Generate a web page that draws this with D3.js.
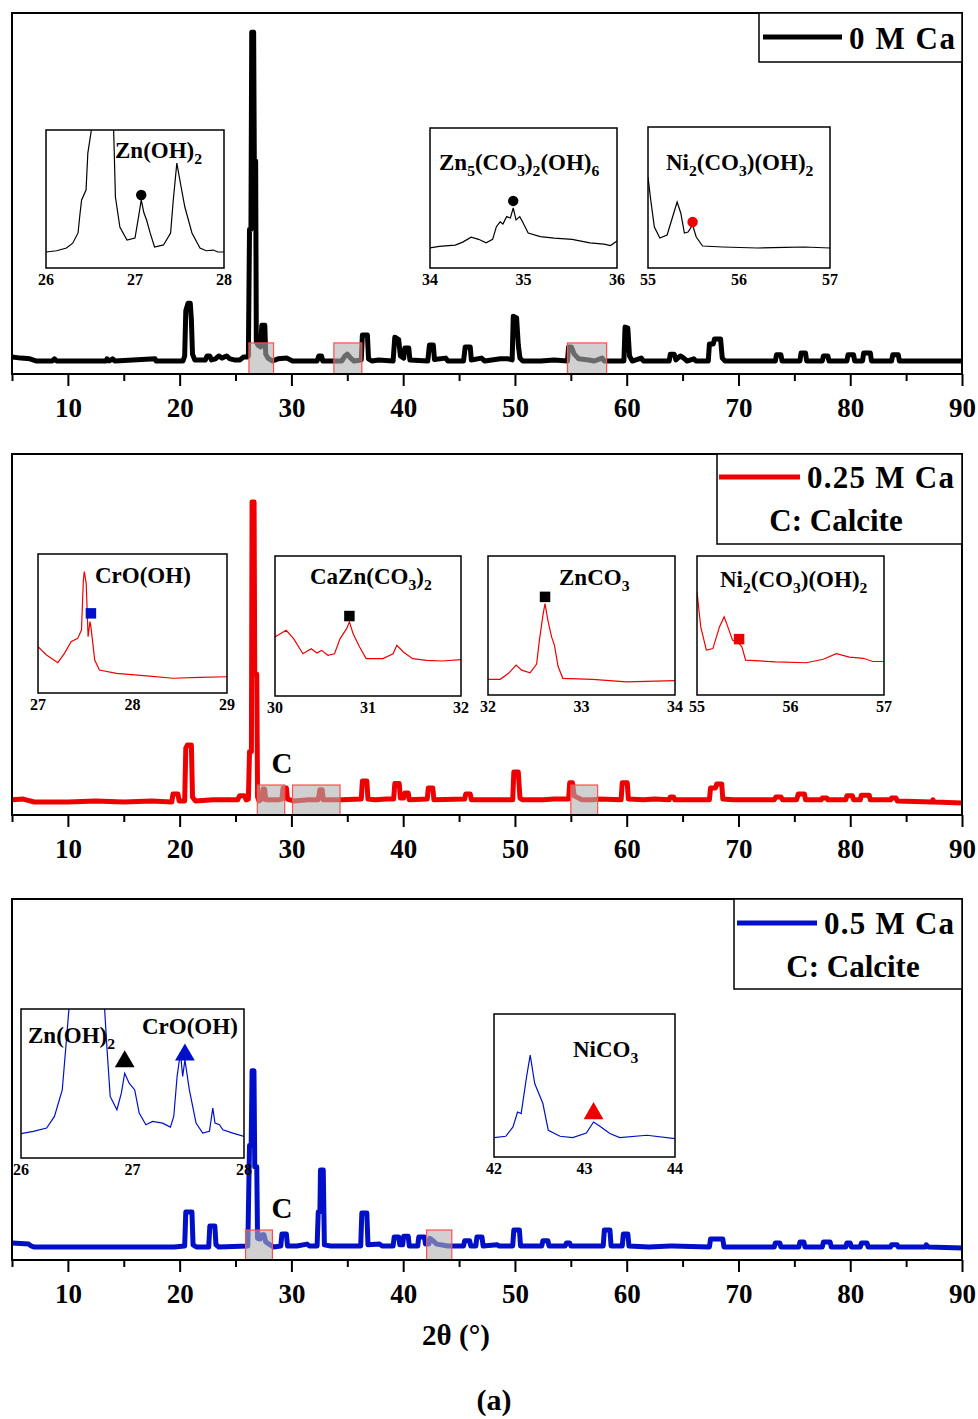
<!DOCTYPE html>
<html>
<head>
<meta charset="utf-8">
<script src="https://cdn.jsdelivr.net/npm/d3@7/dist/d3.min.js"></script>
<style>
html,body{margin:0;padding:0;background:#fff;}
svg{display:block;}
text{font-family:"Liberation Serif","Times New Roman",serif;font-weight:bold;fill:#000;}
</style>
</head>
<body>
<script>
// ---------------- DATA ----------------
const xMajorTicks = [10,20,30,40,50,60,70,80,90];
const xMinorTicks = [5,15,25,35,45,55,65,75,85];
const seriesNames = ["0 M Ca","0.25 M Ca","0.5 M Ca"];
const seriesColors = ["#000000","#ee0000","#0010c8"];

// main XRD patterns: [2theta, intensity (a.u.)]
const pattern0M = [
[5,4.7],[5.8,4.4],[6.6,4.2],[7.2,3.6],[8.6,3.6],[8.8,4.2],[9.0,3.6],[13.4,3.6],[13.5,4.2],[13.7,3.6],[14.0,4.2],[14.2,3.6],[17.8,4.2],[17.9,3.6],
[20.3,3.6],[20.45,5],[20.55,17.5],[20.75,19.6],[20.95,19.6],[21.05,15],[21.15,5.5],[21.35,3.9],
[22.3,3.9],[22.45,5],[22.7,5],[22.85,3.9],[23.2,4.2],[23.5,5],[23.8,4.4],[24.2,5],[24.5,4.2],[24.9,3.9],[25.4,3.9],[25.7,4.7],[26.0,4.7],[26.15,5],
[26.25,40],[26.38,40],[26.45,94.7],[26.62,94.7],[26.68,59],[26.8,59],[26.86,9],[27.0,8],[27.25,7.5],[27.35,13.5],[27.62,13.5],[27.7,5.5],[27.9,4.4],[28.3,3.6],
[28.8,4.2],[29.6,4.4],[30.1,3.6],[32.3,3.6],[32.45,5],[32.7,5],[32.8,3.6],
[34.5,3.6],[34.8,5],[35.0,5.5],[35.3,4.4],[35.6,3.6],[36.25,3.9],[36.35,10.8],[36.8,10.8],[36.9,4.2],[37.2,3.6],
[37.8,3.9],[39.1,3.6],[39.25,10.2],[39.6,9.5],[39.75,5],[40.05,4.4],[40.15,7.2],[40.5,7.2],[40.6,3.9],
[42.2,3.6],[42.35,8],[42.7,8],[42.8,4],[43.8,4.4],[44.0,3.6],
[45.4,3.6],[45.55,7.5],[46.0,7.5],[46.1,3.9],[47.0,4.4],[47.3,3.6],[48.7,4.2],[49.4,4.2],
[49.75,3.9],[49.85,16],[50.15,15.5],[50.3,8],[50.45,4.4],[50.7,3.6],
[52.3,3.6],[53.5,3.9],[54.7,3.6],[54.8,7.5],[55.05,7.5],[55.3,5.5],[55.7,4.2],[56.6,3.9],[57.1,3.6],[57.8,4.4],[58.0,3.6],
[59.75,3.6],[59.85,13],[60.1,12.7],[60.25,5],[60.5,3.6],[61.3,4.4],[61.5,3.6],
[63.8,3.6],[63.9,5.5],[64.25,5.5],[64.4,3.9],[64.8,5],[65.1,4.4],[65.4,3.6],[66.0,4.2],[66.2,3.6],
[67.3,3.6],[67.4,8.3],[67.75,8.3],[67.85,9.7],[68.4,9.7],[68.55,4.4],[68.8,3.6],
[73.3,3.6],[73.4,5.3],[73.8,5.3],[73.9,3.6],[75.5,3.6],[75.6,5.8],[76.0,5.8],[76.1,3.6],[77.5,3.6],[77.6,5],[78.0,5],[78.1,3.6],
[79.7,3.6],[79.8,5.3],[80.3,5.3],[80.4,3.6],[81.1,3.6],[81.2,5.8],[81.8,5.8],[81.9,3.6],[83.7,3.6],[83.8,5.3],[84.3,5.3],[84.4,3.6],[90,3.6]
];
const pattern025M = [
[5,4.2],[6,4.4],[7,3.6],[10,3.6],[12.5,3.9],[15,3.6],[17.5,3.9],[19.3,3.6],[19.4,5.8],[19.85,5.8],[19.95,3.9],
[20.45,3.9],[20.55,18.5],[20.7,19.4],[21.05,19.4],[21.15,5],[21.4,3.9],[23,4.2],[24.5,4.2],[25.2,4.2],[25.35,5.3],[25.8,5.3],[25.95,4.2],
[26.15,4.4],[26.25,17.5],[26.42,17.5],[26.48,86.7],[26.66,86.7],[26.72,39],[26.9,39],[26.97,5],[27.1,3.9],[27.35,4.4],[27.45,7.2],[27.6,7.2],[27.7,4.2],[28.8,4.2],[29.15,4.4],[29.25,7.5],[29.55,7.5],[29.65,4.4],[30.2,3.9],
[31.5,4.2],[32.4,4.2],[32.55,7],[32.75,7],[32.85,4.2],[34.5,4.2],[36.25,4.4],[36.35,9.4],[36.75,9.4],[36.85,4.4],[37.5,4.2],[38.5,4.4],
[39.15,4.4],[39.25,8.7],[39.65,8.7],[39.75,4.7],[40.05,4.7],[40.15,6.1],[40.45,6.1],[40.55,4.2],[42.15,4.4],[42.25,7.5],[42.65,7.5],[42.75,4.2],
[45.5,4.4],[45.6,5.8],[46.0,5.8],[46.1,4.2],[47.5,4.2],[49.8,4.2],[49.9,11.9],[50.3,11.9],[50.45,4.7],[50.7,4.2],[52.5,4.2],[53.5,4.4],
[54.8,4.4],[54.9,8.9],[55.15,8.9],[55.3,5.3],[56,4.2],[57.0,4.2],[57.5,4.4],[59.5,4.2],[59.6,8.9],[60.05,8.9],[60.15,4.4],[61.5,4.2],[62.5,4.4],
[63.8,4.2],[63.9,5],[64.2,5],[64.3,4.2],[66.5,4.2],[67.4,4.2],[67.5,7.5],[67.95,7.5],[68.05,8.6],[68.5,8.6],[68.6,4.4],[69.5,4.2],[71,4.2],
[73.2,4.2],[73.35,5],[73.8,5],[73.95,4.2],[75.2,4.2],[75.35,5.8],[75.9,5.8],[76.0,4.2],[77.4,4.2],[77.5,4.7],[77.9,4.7],[78.0,4.2],
[79.6,4.2],[79.7,5.3],[80.2,5.3],[80.3,4.2],[80.9,4.2],[81.0,5.5],[81.7,5.5],[81.8,4.2],[83.6,4.2],[83.7,4.7],[84.1,4.7],[84.2,3.9],[87.3,3.6],[87.4,4.2],[87.5,3.6],[90,3.3]
];
const pattern05M = [
[5,4.7],[6.5,4.4],[6.7,3.9],[7,3.6],[10,3.6],[15,3.6],[19.5,3.6],[20.45,3.9],[20.55,13.3],[21.1,13.3],[21.2,4.2],[21.5,3.6],
[22.6,3.6],[22.7,9.4],[23.15,9.4],[23.25,4.2],[23.5,3.6],[26.1,3.9],[26.25,31.7],[26.4,31.7],[26.48,52.4],[26.65,52.4],[26.72,25.8],[26.9,25.8],[26.97,6],[27.2,5.8],[27.35,7],[27.55,7],[27.7,5],[28.1,4.2],[28.4,3.6],
[29.05,3.9],[29.15,7.2],[29.55,7.2],[29.65,3.9],[30.5,3.9],[31.4,4.4],[31.6,3.9],[32.3,3.9],[32.4,13.3],[32.55,13.3],[32.6,24.9],[32.85,24.9],[32.95,4.2],[33.5,3.9],
[36.2,3.9],[36.3,13],[36.75,13],[36.85,4.2],[37.9,4.4],[38.1,3.9],[39.1,3.9],[39.2,6.4],[39.6,6.4],[39.7,4.2],[39.95,4.2],[40.05,6.6],[40.45,6.6],[40.55,3.9],
[41.3,3.9],[41.4,6.4],[41.9,6.4],[42.0,4.4],[42.3,4.4],[42.4,6],[42.6,5.5],[43.0,4.4],[44,3.9],[45.4,3.9],[45.5,5.3],[45.95,5.3],[46.05,3.9],[46.5,3.9],[46.6,6.4],[47.05,6.4],[47.15,3.9],
[48.4,4.2],[48.6,3.9],[49.8,3.9],[49.9,8.3],[50.4,8.3],[50.5,3.9],[52.4,3.9],[52.5,5.3],[52.95,5.3],[53.05,3.9],[54.5,3.9],[54.6,4.7],[54.9,4.7],[55.0,3.9],[57.9,3.9],[58.0,8.3],[58.5,8.3],[58.6,3.9],
[59.6,3.9],[59.7,7.2],[60.1,7.2],[60.2,3.9],[62,3.6],[63.9,3.9],[64.1,3.9],[67.4,3.6],[67.5,5.8],[68.6,5.8],[68.7,3.6],[73.2,3.6],[73.3,4.7],[73.7,4.7],[73.8,3.6],
[75.4,3.6],[75.5,5],[75.85,5],[75.95,3.6],[77.5,3.6],[77.6,5],[78.2,5],[78.3,3.6],[79.6,3.6],[79.7,4.7],[80.0,4.7],[80.1,3.6],[80.9,3.6],[81.0,4.7],[81.5,4.7],[81.6,3.6],[83.6,3.6],[83.7,4.2],[84.2,4.2],[84.3,3.6],[86.7,3.6],[86.8,4.2],[87.0,3.6],[90,3.3]
];

// highlighted 2theta ranges [from, to, height]
const zoomRanges0M = [[26.2,28.4,8.6],[33.8,36.3,8.6],[54.7,58.2,8.6]];
const zoomRanges025M = [[26.95,29.4,8.3],[30.1,34.35,8.3],[55.0,57.4,8.3]];
const zoomRanges05M = [[25.9,28.3,8.3],[42.1,44.35,8.3]];

// calcite label [2theta, intensity]
const calciteLabel025M = [29.16,11.6];
const calciteLabel05M = [29.16,11.6];

// inset patterns (intensity relative to inset frame, 0-100)
const insetZnOH2_0M = [[26.00,11.6],[26.12,12.5],[26.23,14.5],[26.30,18],[26.36,25.4],[26.38,38],[26.40,49.3],[26.45,56.5],[26.47,83.3],[26.51,100],[26.55,140],[26.72,140],[26.76,100],[26.78,51.4],[26.83,29.7],[26.91,20.3],[27.00,21.7],[27.04,37],[27.07,49.3],[27.10,40],[27.13,34.8],[27.17,25.4],[27.22,15.2],[27.32,16.7],[27.40,25.4],[27.43,49.3],[27.47,76],[27.51,61.6],[27.56,44.2],[27.64,25.4],[27.73,14.5],[27.80,12.5],[27.88,13],[27.93,11.6],[28.00,11.6]];
const insetZn5_0M = [[34.0,14.3],[34.1,15.5],[34.27,16.4],[34.35,18.5],[34.44,22],[34.52,20.5],[34.6,18],[34.67,20.5],[34.71,29.5],[34.75,33],[34.78,31.4],[34.82,36.7],[34.86,35.7],[34.89,42.9],[34.92,34.3],[34.96,36.7],[34.99,33],[35.05,25],[35.18,22.4],[35.33,21.4],[35.52,20.5],[35.71,18],[35.86,17],[35.93,16],[36.0,19.3]];
const insetNi2_0M = [[55.0,64.5],[55.03,48.2],[55.07,29],[55.13,21.3],[55.21,23.4],[55.27,36.2],[55.32,46.8],[55.36,39],[55.40,24.8],[55.44,25.5],[55.49,30.5],[55.53,22],[55.60,15.6],[55.82,14.9],[56.2,14.2],[56.5,14.6],[56.72,14.9],[57.0,14.2]];
const insetCrOOH_025M = [[27.0,33.3],[27.09,27.3],[27.21,21.8],[27.28,28.5],[27.35,36.9],[27.42,39.3],[27.46,45.3],[27.48,81.3],[27.49,87.3],[27.51,78.9],[27.53,40.5],[27.55,51.3],[27.56,47.7],[27.60,23.7],[27.65,16.5],[27.83,14.1],[28.18,12.2],[28.43,10.6],[28.71,11.3],[29.0,11.7]];
const insetCaZn_025M = [[30.0,42.1],[30.12,46.9],[30.2,41],[30.3,30.2],[30.39,33.8],[30.45,30.7],[30.5,32.6],[30.57,29.1],[30.64,30.2],[30.7,41],[30.77,48.1],[30.8,52.9],[30.84,44.5],[30.91,35],[30.98,26.7],[31.16,26.7],[31.27,30.2],[31.31,36.2],[31.38,31.4],[31.48,26.7],[31.63,25.5],[31.8,25],[32.0,26]];
const insetZnCO3_025M = [[32.0,11.3],[32.13,11.3],[32.22,15.6],[32.3,21.5],[32.36,17.9],[32.45,16],[32.52,22.2],[32.55,39.5],[32.59,58.6],[32.61,65.8],[32.64,53.8],[32.68,41.8],[32.71,35.9],[32.75,20.5],[32.8,12],[33.12,11.3],[33.48,9.5],[34.0,10.3]];
const insetNi2_025M = [[55.0,74.2],[55.04,49],[55.1,32.3],[55.17,33.4],[55.24,49],[55.29,56.2],[55.33,49],[55.38,39.5],[55.45,37.1],[55.48,34.7],[55.52,25.1],[55.84,23.9],[56.17,23.2],[56.35,25.7],[56.49,29.7],[56.63,27.3],[56.78,26.4],[56.88,24.1],[57.0,24.1]];
const insetZnCr_05M = [[26.0,16.3],[26.11,17.9],[26.23,20.1],[26.3,27.9],[26.37,45.7],[26.4,72.5],[26.43,100],[26.47,140],[26.73,140],[26.75,100],[26.77,74.8],[26.8,41.3],[26.86,32.4],[26.9,43.5],[26.93,56.9],[26.97,50.2],[27.02,45.7],[27.06,30.1],[27.12,22.3],[27.18,24.5],[27.27,23.4],[27.34,20.7],[27.37,27.9],[27.4,54.7],[27.43,70.8],[27.45,54.7],[27.47,65.9],[27.51,45.7],[27.57,23.4],[27.63,16.7],[27.69,17.9],[27.72,33.5],[27.74,23.4],[27.78,22.3],[27.81,18.9],[27.9,16.7],[28.0,14.5]];
const insetNiCO3_05M = [[42.0,13.6],[42.13,14.5],[42.21,21.0],[42.26,31.5],[42.3,30.4],[42.36,56.1],[42.4,71.3],[42.45,51.4],[42.51,42.1],[42.54,37.4],[42.6,18.7],[42.73,14.5],[42.87,13.6],[43.02,16.8],[43.1,24.5],[43.17,21.5],[43.28,16.4],[43.39,13.6],[43.69,15.2],[44.0,12.9]];

// phase markers in insets [2theta, intensity]
const markZnOH2_0M = [27.07,52.9];
const markZn5_0M = [34.89,47.9];
const markNi2_0M = [55.49,32.6];
const markCrOOH_025M = [27.56,57.3];
const markCaZn_025M = [30.8,57.1];
const markZnCO3_025M = [32.61,70.6];
const markNi2_025M = [55.45,40.2];
const markZnOH2_05M = [26.93,64.7];
const markCrOOH_05M = [27.47,69.2];
const markNiCO3_05M = [43.1,30.4];

// ---------------- DRAW ----------------
const W = 978, H = 1419;
const svg = d3.select("body").append("svg").attr("width", W).attr("height", H);
const FONT = '"Liberation Serif","Times New Roman",serif';

function rich(sel, str, size) {
  // "_" marks subscript digits
  const parts = str.split(/(_\d+)/).filter(s => s.length);
  let sub = false;
  parts.forEach(p => {
    if (p[0] === "_") {
      sel.append("tspan").attr("font-size", size * 0.68).attr("dy", size * 0.28).text(p.slice(1));
      sub = true;
    } else {
      const t = sel.append("tspan").text(p);
      if (sub) { t.attr("dy", -size * 0.28); sub = false; }
    }
  });
}

const panels = [
  {top: 13, bottom: 374, data: pattern0M, color: seriesColors[0], name: seriesNames[0], ranges: zoomRanges0M,
   legend: {x0: 759, y0: 13, y1: 62, lx0: 763, lx1: 842, ly: 37, tx: 849, ty: 49, tw: 106, calc: null}, calcite: null},
  {top: 454, bottom: 815, data: pattern025M, color: seriesColors[1], name: seriesNames[1], ranges: zoomRanges025M,
   legend: {x0: 717, y0: 454, y1: 544, lx0: 719, lx1: 800, ly: 477, tx: 807, ty: 488, tw: 147, calc: [836, 531]}, calcite: calciteLabel025M},
  {top: 899, bottom: 1260, data: pattern05M, color: seriesColors[2], name: seriesNames[2], ranges: zoomRanges05M,
   legend: {x0: 734, y0: 899, y1: 989, lx0: 737, lx1: 817, ly: 923, tx: 824, ty: 934, tw: 130, calc: [853, 977]}, calcite: calciteLabel05M}
];

const X0 = 12, X1 = 962;
const x = d3.scaleLinear().domain([5, 90]).range([X0, X1]);

panels.forEach((p, i) => {
  const g = svg.append("g");
  const y = d3.scaleLinear().domain([0, 100]).range([p.bottom, p.top]);
  p.y = y;
  const cid = "clipMain" + i;
  svg.append("clipPath").attr("id", cid).append("rect")
    .attr("x", X0).attr("y", p.top).attr("width", X1 - X0).attr("height", p.bottom - p.top);

  const line = d3.line().x(d => x(d[0])).y(d => y(d[1])).curve(d3.curveLinear);
  g.append("path").datum(p.data).attr("d", line).attr("fill", "none")
    .attr("stroke", p.color).attr("stroke-width", 5).attr("stroke-linejoin", "round")
    .attr("clip-path", `url(#${cid})`);

  // highlighted ranges
  g.selectAll("rect.hl").data(p.ranges).enter().append("rect")
    .attr("x", d => x(d[0])).attr("width", d => x(d[1]) - x(d[0]))
    .attr("y", d => y(d[2])).attr("height", d => y(0) - y(d[2]))
    .attr("fill", "#b0b0b0").attr("fill-opacity", 0.6)
    .attr("stroke", "#ff4d4d").attr("stroke-width", 1.2);

  // frame
  g.append("rect").attr("x", X0).attr("y", p.top).attr("width", X1 - X0).attr("height", p.bottom - p.top)
    .attr("fill", "none").attr("stroke", "#000").attr("stroke-width", 2);

  // axes
  const axMaj = d3.axisBottom(x).tickValues(xMajorTicks).tickSize(12).tickFormat(d3.format("d"));
  const axMin = d3.axisBottom(x).tickValues(xMinorTicks).tickSize(7).tickFormat("");
  const ga = g.append("g").attr("transform", `translate(0,${p.bottom})`).call(axMaj);
  const gm = g.append("g").attr("transform", `translate(0,${p.bottom})`).call(axMin);
  [ga, gm].forEach(a => {
    a.select(".domain").remove();
    a.selectAll("line").attr("stroke", "#000").attr("stroke-width", 2);
  });
  ga.selectAll("text").attr("font-family", FONT).attr("font-weight", "bold").attr("font-size", 27)
    .attr("fill", "#000").attr("dy", null).attr("y", 43);

  // legend
  const L = p.legend;
  g.append("rect").attr("x", L.x0).attr("y", L.y0).attr("width", X1 - L.x0).attr("height", L.y1 - L.y0)
    .attr("fill", "#fff").attr("stroke", "#000").attr("stroke-width", 1.5);
  g.append("line").attr("x1", L.lx0).attr("x2", L.lx1).attr("y1", L.ly).attr("y2", L.ly)
    .attr("stroke", p.color).attr("stroke-width", 5);
  g.append("text").attr("x", L.tx).attr("y", L.ty).attr("font-size", 31)
    .attr("textLength", L.tw).attr("lengthAdjust", "spacing").text(p.name);
  if (L.calc) {
    g.append("text").attr("x", L.calc[0]).attr("y", L.calc[1]).attr("font-size", 31)
      .attr("text-anchor", "middle").text("C: Calcite");
  }
  if (p.calcite) {
    g.append("text").attr("x", x(p.calcite[0])).attr("y", y(p.calcite[1])).attr("font-size", 29)
      .attr("text-anchor", "middle").text("C");
  }
});

// insets
const insets = [
  {panel: 0, dom: [26, 28], box: [46, 130, 224, 268], data: insetZnOH2_0M,
   titles: [["Zn(OH)_2", 115, 158]], marks: [["circle", "#000", markZnOH2_0M]]},
  {panel: 0, dom: [34, 36], box: [430, 128, 617, 268], data: insetZn5_0M,
   titles: [["Zn_5(CO_3)_2(OH)_6", 439, 170]], marks: [["circle", "#000", markZn5_0M]]},
  {panel: 0, dom: [55, 57], box: [648, 127, 830, 268], data: insetNi2_0M,
   titles: [["Ni_2(CO_3)(OH)_2", 666, 170]], marks: [["circle", "#ee0000", markNi2_0M]]},
  {panel: 1, dom: [27, 29], box: [38, 554, 227, 693], data: insetCrOOH_025M,
   titles: [["CrO(OH)", 95, 583]], marks: [["square", "#0010c8", markCrOOH_025M]]},
  {panel: 1, dom: [30, 32], box: [275, 556, 461, 696], data: insetCaZn_025M,
   titles: [["CaZn(CO_3)_2", 310, 584]], marks: [["square", "#000", markCaZn_025M]]},
  {panel: 1, dom: [32, 34], box: [488, 556, 675, 695], data: insetZnCO3_025M,
   titles: [["ZnCO_3", 559, 585]], marks: [["square", "#000", markZnCO3_025M]]},
  {panel: 1, dom: [55, 57], box: [697, 556, 884, 695], data: insetNi2_025M,
   titles: [["Ni_2(CO_3)(OH)_2", 720, 587]], marks: [["square", "#ee0000", markNi2_025M]]},
  {panel: 2, dom: [26, 28], box: [21, 1009, 244, 1158], data: insetZnCr_05M,
   titles: [["Zn(OH)_2", 28, 1043], ["CrO(OH)", 142, 1034]],
   marks: [["triangle", "#000", markZnOH2_05M], ["triangle", "#0010c8", markCrOOH_05M]]},
  {panel: 2, dom: [42, 44], box: [494, 1014, 675, 1157], data: insetNiCO3_05M,
   titles: [["NiCO_3", 573, 1057]], marks: [["triangle", "#ee0000", markNiCO3_05M]]}
];

const symTypes = {circle: [d3.symbolCircle, 85], square: [d3.symbolSquare, 110], triangle: [d3.symbolTriangle, 170]};

insets.forEach((ins, k) => {
  const p = panels[ins.panel];
  const [bx0, by0, bx1, by1] = ins.box;
  const ix = d3.scaleLinear().domain(ins.dom).range([bx0, bx1]);
  const iy = d3.scaleLinear().domain([0, 100]).range([by1, by0]);
  const g = svg.append("g");
  const cid = "clipIns" + k;
  svg.append("clipPath").attr("id", cid).append("rect")
    .attr("x", bx0).attr("y", by0).attr("width", bx1 - bx0).attr("height", by1 - by0);
  g.append("rect").attr("x", bx0).attr("y", by0).attr("width", bx1 - bx0).attr("height", by1 - by0)
    .attr("fill", "#fff");
  const line = d3.line().x(d => ix(d[0])).y(d => iy(d[1]));
  g.append("path").datum(ins.data).attr("d", line).attr("fill", "none")
    .attr("stroke", p.color).attr("stroke-width", 1.2).attr("clip-path", `url(#${cid})`);
  g.append("rect").attr("x", bx0).attr("y", by0).attr("width", bx1 - bx0).attr("height", by1 - by0)
    .attr("fill", "none").attr("stroke", "#000").attr("stroke-width", 1.5);
  const tv = [ins.dom[0], (ins.dom[0] + ins.dom[1]) / 2, ins.dom[1]];
  g.selectAll("text.tk").data(tv).enter().append("text")
    .attr("x", d => ix(d)).attr("y", by1 + 17).attr("font-size", 16).attr("text-anchor", "middle")
    .text(d => d3.format("d")(d));
  ins.titles.forEach(t => {
    const tx = g.append("text").attr("x", t[1]).attr("y", t[2]).attr("font-size", 23);
    rich(tx, t[0], 23);
  });
  ins.marks.forEach(m => {
    const [type, size] = symTypes[m[0]];
    g.append("path").attr("d", d3.symbol().type(type).size(size)())
      .attr("transform", `translate(${ix(m[2][0])},${iy(m[2][1])})`)
      .attr("fill", m[1]);
  });
});

// axis title and panel label
svg.append("text").attr("x", 456).attr("y", 1345).attr("font-size", 29).attr("text-anchor", "middle").text("2θ (°)");
svg.append("text").attr("x", 494).attr("y", 1410).attr("font-size", 30).attr("text-anchor", "middle").text("(a)");
</script>
</body>
</html>
